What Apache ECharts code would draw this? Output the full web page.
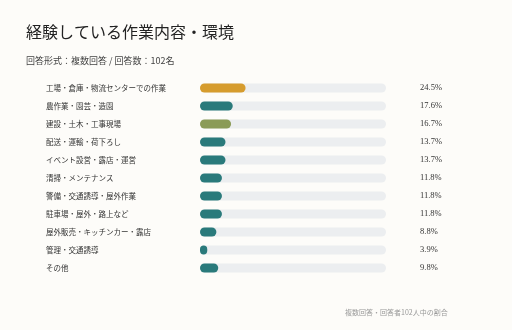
<!DOCTYPE html>
<html>
<head>
<meta charset="utf-8">
<script src="https://cdn.jsdelivr.net/npm/echarts@6/dist/echarts.min.js"></script>
<style>
  html, body { margin: 0; padding: 0; background: #fdfcf9; }
  #main { width: 512px; height: 330px; }
</style>
</head>
<body>
<div id="main"></div>
<script>
const categories = [
  '工場・倉庫・物流センターでの作業',
  '農作業・園芸・造園',
  '建設・土木・工事現場',
  '配送・運輸・荷下ろし',
  'イベント設営・露店・運営',
  '清掃・メンテナンス',
  '警備・交通誘導・屋外作業',
  '駐車場・屋外・路上など',
  '屋外販売・キッチンカー・露店',
  '管理・交通誘導',
  'その他'
];
const values = [24.5, 17.6, 16.7, 13.7, 13.7, 11.8, 11.8, 11.8, 8.8, 3.9, 9.8];
const barColors = ['#d69c2e', '#2a7a7b', '#8b9b57', '#2a7a7b', '#2a7a7b', '#2a7a7b',
  '#2a7a7b', '#2a7a7b', '#2a7a7b', '#2a7a7b', '#2a7a7b'];

const chart = echarts.init(document.getElementById('main'));
const jp = "'Noto Sans CJK JP', sans-serif";

const option = {
  backgroundColor: '#fdfcf9',
  title: [
    {
      text: '経験している作業内容・環境',
      left: 21, top: 19,
      textStyle: { fontFamily: jp, fontSize: 16, fontWeight: 'normal', color: '#222' }
    },
    {
      text: '回答形式：複数回答 / 回答数：102名',
      left: 21, top: 51,
      textStyle: { fontFamily: jp, fontSize: 9, fontWeight: 'normal', color: '#444' }
    },
    {
      text: '複数回答・回答者102人中の割合',
      left: 340, top: 304,
      textStyle: { fontFamily: jp, fontSize: 7, fontWeight: 'normal', color: '#999' }
    }
  ],
  grid: { left: 200, width: 186, top: 79, height: 198 },
  xAxis: { type: 'value', min: 0, max: 100, show: false },
  yAxis: [
    {
      type: 'category', data: categories, inverse: true,
      axisLine: { show: false }, axisTick: { show: false },
      axisLabel: { align: 'left', margin: 154, fontFamily: jp, fontSize: 7.5, color: '#333' }
    },
    {
      type: 'category', data: values.map(v => v.toFixed(1) + '%'), inverse: true,
      position: 'right',
      axisLine: { show: false }, axisTick: { show: false },
      axisLabel: { align: 'left', margin: 34, fontFamily: "'Liberation Serif', serif", fontSize: 8.5, color: '#333' }
    }
  ],
  series: [{
    type: 'bar',
    barWidth: 9,
    showBackground: true,
    backgroundStyle: { color: '#eceef0', borderRadius: 4.5 },
    itemStyle: { borderRadius: 4.5 },
    data: values.map((v, i) => ({ value: v, itemStyle: { color: barColors[i] } }))
  }]
};
chart.setOption(option);
</script>
</body>
</html>
